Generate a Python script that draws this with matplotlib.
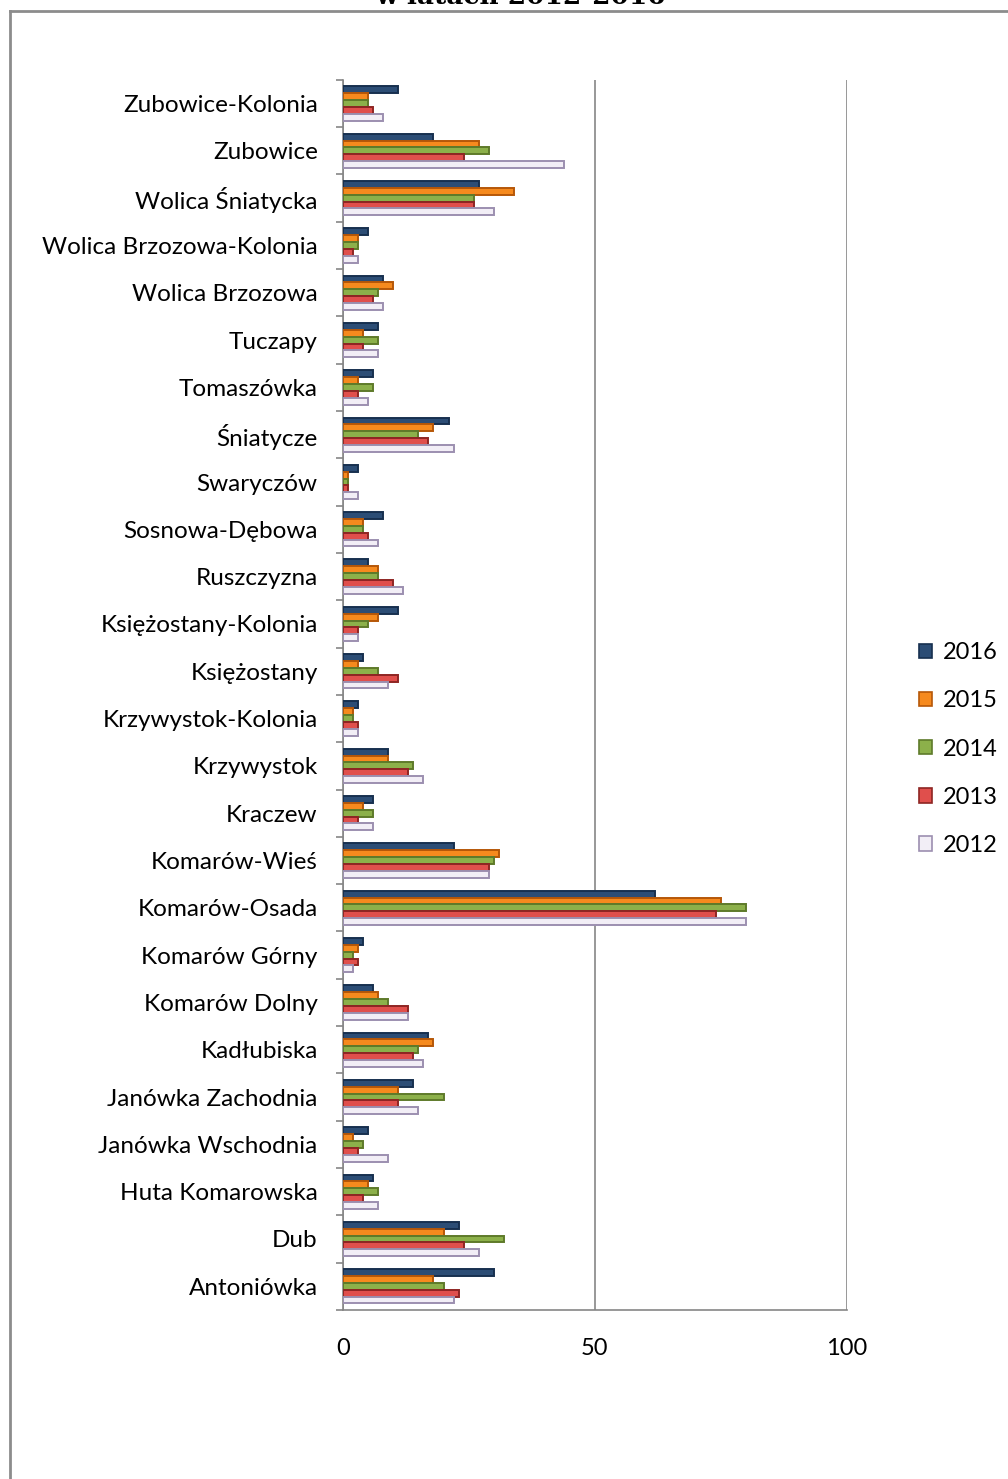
import numpy as np
import matplotlib
matplotlib.use('Agg')
import matplotlib.pyplot as plt
from matplotlib.patches import Patch
from matplotlib.lines import Line2D

# villages, top to bottom as in the chart
villages = ['Zubowice-Kolonia', 'Zubowice', 'Wolica Śniatycka', 'Wolica Brzozowa-Kolonia',
            'Wolica Brzozowa', 'Tuczapy', 'Tomaszówka', 'Śniatycze', 'Swaryczów',
            'Sosnowa-Dębowa', 'Ruszczyzna', 'Księżostany-Kolonia', 'Księżostany',
            'Krzywystok-Kolonia', 'Krzywystok', 'Kraczew', 'Komarów-Wieś', 'Komarów-Osada',
            'Komarów Górny', 'Komarów Dolny', 'Kadłubiska', 'Janówka Zachodnia',
            'Janówka Wschodnia', 'Huta Komarowska', 'Dub', 'Antoniówka']

v2016 = [11, 18, 27, 5, 8, 7, 6, 21, 3, 8, 5, 11, 4, 3, 9, 6, 22, 62, 4, 6, 17, 14, 5, 6, 23, 30]
v2015 = [5, 27, 34, 3, 10, 4, 3, 18, 1, 4, 7, 7, 3, 2, 9, 4, 31, 75, 3, 7, 18, 11, 2, 5, 20, 18]
v2014 = [5, 29, 26, 3, 7, 7, 6, 15, 1, 4, 7, 5, 7, 2, 14, 6, 30, 80, 2, 9, 15, 20, 4, 7, 32, 20]
v2013 = [6, 24, 26, 2, 6, 4, 3, 17, 1, 5, 10, 3, 11, 3, 13, 3, 29, 74, 3, 13, 14, 11, 3, 4, 24, 23]
v2012 = [8, 44, 30, 3, 8, 7, 5, 22, 3, 7, 12, 3, 9, 3, 16, 6, 29, 80, 2, 13, 16, 15, 9, 7, 27, 22]

years = ['2016', '2015', '2014', '2013', '2012']
series = [v2016, v2015, v2014, v2013, v2012]
faces = ['#2C4D75', '#F68A1E', '#8CB04A', '#E04F4C', '#F2EEF6']
edges = ['#17304F', '#B65708', '#5E7A2A', '#8E2523', '#9C8FB0']

fig = plt.figure(figsize=(10.08, 14.79), dpi=100)
ax = fig.add_axes([0.340, 0.1143, 0.5, 0.8317])

n = len(villages)
y = np.arange(n)
h = 0.145
for i, (vals, fc, ec) in enumerate(zip(series, faces, edges)):
    ax.barh(y + (i - 2) * h, vals, height=h, color=fc, edgecolor=ec, linewidth=1.4, zorder=3)

ax.set_xlim(0, 100)
ax.set_ylim(n - 0.5, -0.5)
ax.set_xticks([0, 50, 100])
ax.tick_params(axis='x', length=0, pad=20, labelsize=17)
ax.grid(axis='x', color='#868686', linewidth=1.2, zorder=0)

ax.set_yticks(np.arange(n + 1) - 0.5)
ax.set_yticklabels([])
ax.set_yticks(y, minor=True)
ax.set_yticklabels(villages, minor=True)
ax.tick_params(axis='y', which='major', length=5, color='#868686', width=1.2)
ax.tick_params(axis='y', which='minor', length=0, pad=18, labelsize=17.5)

for s in ['top', 'right']:
    ax.spines[s].set_visible(False)
for s in ['left', 'bottom']:
    ax.spines[s].set_color('#868686')
    ax.spines[s].set_linewidth(1.2)

for lab in ax.get_xticklabels() + ax.get_yticklabels(minor=True):
    lab.set_family('Lato')

handles = [Patch(facecolor=fc, edgecolor=ec, linewidth=1.2) for fc, ec in zip(faces, edges)]
leg = fig.legend(handles, years, loc='center left', bbox_to_anchor=(0.900, 0.4935),
                 frameon=False, prop={'family': 'Lato', 'size': 17}, labelspacing=1.15,
                 handlelength=0.55, handleheight=0.55, handletextpad=0.45, borderpad=0)

# title sits partly above the image edge, as in the source picture
fig.text(0.516, 1 - 4 / 1479, 'w latach 2012-2016', ha='center', va='baseline',
         family='DejaVu Serif', weight='bold', fontsize=19)

# outer frame
fig.add_artist(Line2D([10 / 1008, 1], [1 - 11 / 1479] * 2, color='#8C8C8C', linewidth=2))
fig.add_artist(Line2D([10 / 1008] * 2, [0, 1 - 11 / 1479], color='#8C8C8C', linewidth=2))

fig.savefig('out.png', dpi=100)
